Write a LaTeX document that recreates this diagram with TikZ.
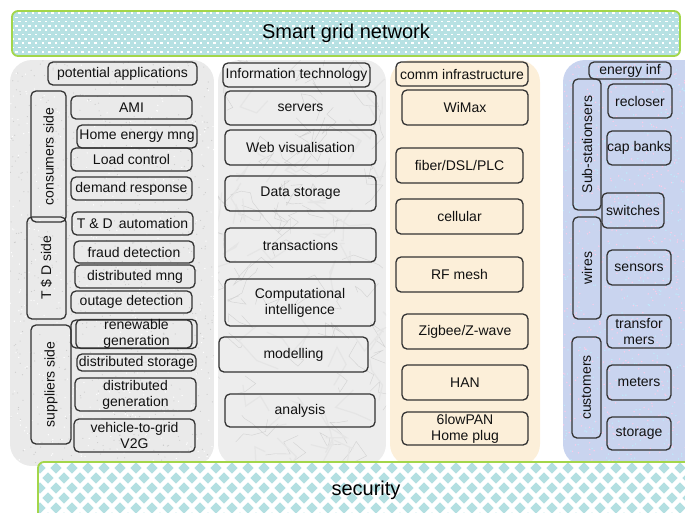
\documentclass[tikz,border=0pt]{standalone}
\usepackage{fontspec}
\setmainfont{Liberation Sans}
\definecolor{bannerfill}{HTML}{B7E1E3}
\definecolor{bannerline}{HTML}{A3D64A}
\definecolor{diamondfill}{HTML}{B3DFE1}
\definecolor{appfill}{HTML}{EAEAEA}
\definecolor{itfill}{HTML}{EDEDED}
\definecolor{commfill}{HTML}{FCEFD9}
\definecolor{energyfill}{HTML}{C9D4EF}
\definecolor{boxline}{HTML}{333333}
\definecolor{boxtext}{HTML}{111111}
\begin{document}
\begin{tikzpicture}[x=1pt,y=-1pt,
  box/.style={draw=boxline, line width=1.3pt, rounded corners=5pt, inner sep=0pt,
    align=center, text=boxtext, font=\fontsize{14}{16}\selectfont},
  sidebox/.style={box, rotate=90},
  panelshape/.style={rounded corners=22pt},
  bannerbox/.style={draw=bannerline, line width=1.8pt, rounded corners=6pt, inner sep=0pt,
    font=\fontsize{20}{24}\selectfont, text=black}]
\useasboundingbox (0,0) rectangle (685,512);
\clip (0,0) rectangle (685,512);

% ---------- column panels ----------
% potential applications: speckled grey
\begin{scope}
  \clip[panelshape] (10,60) rectangle (214,466);
  \fill[appfill] (10,60) rectangle (214,466);
  \pgfmathsetseed{3}
  \foreach \i in {1,...,700}{
    \pgfmathsetmacro\ax{10+rnd*204}
    \pgfmathsetmacro\ay{60+rnd*406}
    \fill[gray!40] (\ax,\ay) circle (0.6);
  }
  \foreach \i in {1,...,400}{
    \pgfmathsetmacro\ax{10+rnd*204}
    \pgfmathsetmacro\ay{60+rnd*406}
    \fill[white] (\ax,\ay) circle (0.7);
  }
\end{scope}

% information technology: marble
\begin{scope}
  \clip[panelshape] (218,60) rectangle (386,466);
  \fill[itfill] (218,60) rectangle (386,466);
  \pgfmathsetseed{11}
  \foreach \i in {1,...,70}{
    \pgfmathsetmacro\ax{218+rnd*168}
    \pgfmathsetmacro\ay{60+rnd*406}
    \draw[gray!35, line width=0.4pt] (\ax,\ay) -- ++({rand*16},{rand*16})
      -- ++({rand*16},{rand*16}) -- ++({rand*16},{rand*16}) -- ++({rand*16},{rand*16});
  }
  \foreach \i in {1,...,40}{
    \pgfmathsetmacro\ax{218+rnd*168}
    \pgfmathsetmacro\ay{60+rnd*406}
    \draw[gray!20, line width=1.2pt] (\ax,\ay) -- ++({rand*22},{rand*22})
      -- ++({rand*22},{rand*22}) -- ++({rand*22},{rand*22});
  }
\end{scope}

% comm infrastructure: beige
\fill[commfill, panelshape] (390,60) rectangle (540,466);

% energy infrastructure: speckled lavender
\begin{scope}
  \clip[panelshape] (563,60) rectangle (710,466);
  \fill[energyfill] (563,60) rectangle (710,466);
  \pgfmathsetseed{5}
  \foreach \i in {1,...,500}{
    \pgfmathsetmacro\ax{563+rnd*125}
    \pgfmathsetmacro\ay{60+rnd*406}
    \fill[magenta!20] (\ax,\ay) circle (0.8);
  }
  \foreach \i in {1,...,400}{
    \pgfmathsetmacro\ax{563+rnd*125}
    \pgfmathsetmacro\ay{60+rnd*406}
    \fill[cyan!25] (\ax,\ay) circle (0.8);
  }
\end{scope}

% ---------- top banner: teal with a staggered grid of white dashes ----------
\begin{scope}
  \clip[rounded corners=6pt] (12,11) rectangle (680,56);
  \fill[bannerfill] (12,11) rectangle (680,56);
  \foreach \r in {0,...,10}{
    \pgfmathsetmacro\yy{13+\r*4.3}
    \pgfmathsetmacro\xo{mod(\r,2)*3.3}
    \foreach \c in {0,...,102}{
      \fill[white] ({13+\xo+\c*6.6-1.2},{\yy-0.8}) rectangle ++(2.4,1.6);
    }
  }
\end{scope}
\node[bannerbox, minimum width=668pt, minimum height=45pt] (sgn) at (346,33.5) {Smart grid network};

% ---------- bottom banner: staggered teal diamonds ----------
\begin{scope}
  \clip[rounded corners=6pt] (38,462) rectangle (700,530);
  \fill[white] (38,462) rectangle (700,530);
  \foreach \r in {0,...,5}{
    \pgfmathsetmacro\yy{468+\r*10}
    \pgfmathsetmacro\xo{mod(\r,2)*8}
    \foreach \c in {0,...,42}{
      \fill[diamondfill] ({40+\xo+\c*16},\yy) +(-5.6,0) -- +(0,-5.6) -- +(5.6,0) -- +(0,5.6) -- cycle;
    }
  }
\end{scope}
\node[bannerbox, minimum width=662pt, minimum height=68pt] (sec) at (369,496) {};
\node[font=\fontsize{20}{24}\selectfont] (sectext) at (366,490) {security};

% ---------- potential applications ----------
\node[box, minimum width=149pt, minimum height=23pt] (pa) at (122.5,73.5) {potential applications};
\node[sidebox, minimum width=131pt, minimum height=35pt] (cons) at (48.5,156.5) {consumers side};
\node[sidebox, minimum width=102pt, minimum height=39pt] (tsd) at (46.5,268) {T \$ D side};
\node[sidebox, minimum width=119pt, minimum height=40pt] (supp) at (51,384.5) {suppliers side};
\node[box, minimum width=121pt, minimum height=23pt] (ami) at (131.5,107.5) {AMI};
\node[box, minimum width=120pt, minimum height=23pt] (hem) at (137,136.5) {Home energy mng};
\node[box, minimum width=121pt, minimum height=23pt] (load) at (131.5,159.5) {Load control};
\node[box, minimum width=121pt, minimum height=23pt] (dr) at (131.5,188.5) {demand response};
\node[box, minimum width=121pt, minimum height=23pt] (tda) at (132.5,223.5) {T \& D\, automation};
\node[box, minimum width=120pt, minimum height=22pt] (fraud) at (134,252) {fraud detection};
\node[box, minimum width=120pt, minimum height=23pt] (dmng) at (135,276.5) {distributed mng};
\node[box, minimum width=121pt, minimum height=22pt] (outage) at (131.5,302) {outage detection};
\node[box, minimum width=121pt, minimum height=28pt] (renewA) at (131.5,334) {};
\node[box, minimum width=121pt, minimum height=28pt] (renewB) at (136.5,334) {renewable\\generation};
\node[box, minimum width=119pt, minimum height=17pt] (dstor) at (136.5,362.5) {distributed storage};
\node[box, minimum width=121pt, minimum height=33pt] (dgen) at (135.5,394.5) {distributed\\generation};
\node[box, minimum width=121pt, minimum height=33pt] (v2g) at (134.5,435.5) {vehicle-to-grid\\V2G};

% ---------- information technology ----------
\node[box, minimum width=147pt, minimum height=24pt] (it) at (296.5,75) {Information technology};
\node[box, minimum width=151pt, minimum height=34pt] (servers) at (300.5,108) {servers};
\node[box, minimum width=151pt, minimum height=35pt] (web) at (300.5,147.5) {Web visualisation};
\node[box, minimum width=151pt, minimum height=35pt] (data) at (300.5,193.5) {Data storage};
\node[box, minimum width=151pt, minimum height=34pt] (trans) at (300.5,245) {transactions};
\node[box, minimum width=150pt, minimum height=47pt] (ci) at (300,302.5) {Computational\\intelligence};
\node[box, minimum width=149pt, minimum height=35pt] (model) at (293.5,354.5) {modelling};
\node[box, minimum width=150pt, minimum height=33pt] (anal) at (300,410.5) {analysis};

% ---------- comm infrastructure ----------
\node[box, minimum width=132pt, minimum height=24pt] (comm) at (462,74) {comm infrastructure};
\node[box, minimum width=126pt, minimum height=35pt] (wimax) at (465,107.5) {WiMax};
\node[box, minimum width=127pt, minimum height=35pt] (fiber) at (459.5,165.5) {fiber/DSL/PLC};
\node[box, minimum width=127pt, minimum height=35pt] (cell) at (459.5,216.5) {cellular};
\node[box, minimum width=127pt, minimum height=35pt] (rf) at (459.5,274.5) {RF mesh};
\node[box, minimum width=126pt, minimum height=35pt] (zig) at (465,331.5) {Zigbee/Z-wave};
\node[box, minimum width=126pt, minimum height=35pt] (han) at (465,382.5) {HAN};
\node[box, minimum width=126pt, minimum height=33pt] (lowpan) at (465,428.5) {6lowPAN\\Home plug};

% ---------- energy infrastructure ----------
\node[box, minimum width=82pt, minimum height=17pt] (einf) at (630,70.5) {energy inf};
\node[sidebox, minimum width=131pt, minimum height=28pt] (subst) at (587,144.5) {Sub-stationsers};
\node[sidebox, minimum width=102pt, minimum height=28pt] (wires) at (587,268) {wires};
\node[sidebox, minimum width=101pt, minimum height=29pt] (cust) at (586.5,387.5) {customers};
\node[box, minimum width=64pt, minimum height=34pt] (recl) at (640,101) {recloser};
\node[box, minimum width=64pt, minimum height=34pt] (capb) at (639,148) {cap banks};
\node[box, minimum width=62pt, minimum height=35pt] (sw) at (633,210.5) {switches};
\node[box, minimum width=64pt, minimum height=35pt] (sens) at (639,267.5) {sensors};
\node[box, minimum width=64pt, minimum height=33pt] (trf) at (639,331.5) {transfor\\mers};
\node[box, minimum width=64pt, minimum height=35pt] (met) at (639,382.5) {meters};
\node[box, minimum width=64pt, minimum height=33pt] (stor) at (639,433.5) {storage};
\end{tikzpicture}
\end{document}
